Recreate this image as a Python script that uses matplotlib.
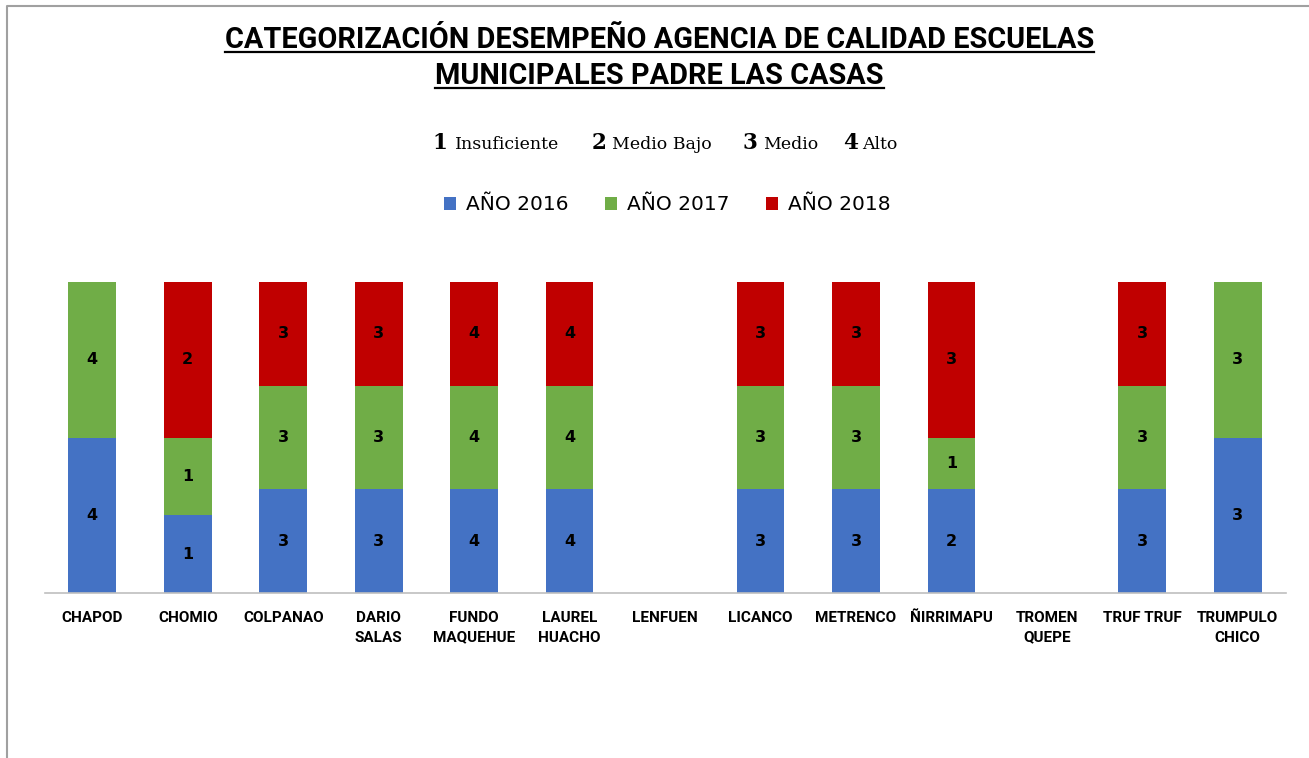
import matplotlib
matplotlib.use('Agg')
import matplotlib.pyplot as plt
import numpy as np
from matplotlib.lines import Line2D

W, H = 1309, 758

escuelas = ['CHAPOD', 'CHOMIO', 'COLPANAO', 'DARIO\nSALAS', 'FUNDO\nMAQUEHUE',
            'LAUREL\nHUACHO', 'LENFUEN', 'LICANCO', 'METRENCO', 'ÑIRRIMAPU',
            'TROMEN\nQUEPE', 'TRUF TRUF', 'TRUMPULO\nCHICO']
anio_2016 = [4, 1, 3, 3, 4, 4, 0, 3, 3, 2, 0, 3, 3]
anio_2017 = [4, 1, 3, 3, 4, 4, 0, 3, 3, 1, 0, 3, 3]
anio_2018 = [0, 2, 3, 3, 4, 4, 0, 3, 3, 3, 0, 3, 0]
series = ['AÑO 2016', 'AÑO 2017', 'AÑO 2018']
colores = ['#4472C4', '#70AD47', '#C00000']

categorias = [('1', 'Insuficiente'), ('2', 'Medio Bajo'), ('3', 'Medio'), ('4', 'Alto')]

NARROW = ['Roboto', 'DejaVu Sans']
plt.rcParams['font.family'] = ['DejaVu Sans']


def px(x, y):
    return x / W, 1 - y / H


fig = plt.figure(figsize=(W / 100, H / 100), dpi=100)
ax = fig.add_axes([44.6 / W, 1 - 593 / H, (1285.5 - 44.6) / W, 311 / H])

datos = np.array([anio_2016, anio_2017, anio_2018], dtype=float)
totales = datos.sum(axis=0)
pct = np.divide(datos, totales, out=np.zeros_like(datos), where=totales > 0)
x = np.arange(len(escuelas))
base = np.zeros(len(escuelas))
for i, (nombre, color) in enumerate(zip(series, colores)):
    bars = ax.bar(x, pct[i], 0.5, bottom=base, color=color, label=nombre)
    for j, b in enumerate(bars):
        if datos[i, j] > 0:
            ax.text(b.get_x() + b.get_width() / 2, base[j] + pct[i, j] / 2,
                    f'{int(datos[i, j])}', ha='center', va='center',
                    fontsize=11.5, fontweight='bold', color='black')
    base += pct[i]

ax.set_xlim(-0.5, len(escuelas) - 0.5)
ax.set_ylim(0, 1)
ax.set_xticks(x)
ax.set_xticklabels(escuelas, family=NARROW, fontsize=11, fontweight='bold',
                   linespacing=1.5, va='top')
ax.tick_params(axis='x', length=0, pad=13)
ax.set_yticks([])
for s in ['top', 'right', 'left']:
    ax.spines[s].set_visible(False)
ax.spines['bottom'].set_color('#BFBFBF')
ax.spines['bottom'].set_linewidth(1.2)

# leyenda
leg = fig.legend(loc='center', bbox_to_anchor=px(667, 205), ncol=3, frameon=False,
                 fontsize=14.5, handlelength=0.6, handleheight=0.6, handletextpad=0.5,
                 columnspacing=1.8)

# clave de categorias
pos_cat = [(432, 455), (592, 612), (743, 763), (843, 862)]
for (num, txt), (xn, xt) in zip(categorias, pos_cat):
    fig.text(*px(xn, 149), num, family='DejaVu Serif', fontsize=15.5, fontweight='bold',
             va='baseline', ha='left')
    fig.text(*px(xt, 149), txt, family='DejaVu Serif', fontsize=12.5,
             va='baseline', ha='left')

# titulo subrayado
titulos = [('CATEGORIZACIÓN DESEMPEÑO AGENCIA DE CALIDAD ESCUELAS', 48, 51.5),
           ('MUNICIPALES PADRE LAS CASAS', 84, 88)]
textos = []
for t, yb, yu in titulos:
    tx = fig.text(*px(659.5, yb), t, family=NARROW, fontsize=20.8, fontweight='bold',
                  ha='center', va='baseline')
    textos.append((tx, yu))

fig.canvas.draw()
r = fig.canvas.get_renderer()
for tx, yu in textos:
    bb = tx.get_window_extent(r)
    fig.add_artist(Line2D([bb.x0 / W, bb.x1 / W], [1 - yu / H] * 2, color='black',
                          lw=1.6, transform=fig.transFigure))

# marco
fig.add_artist(Line2D([6.5 / W, 6.5 / W, 1], [0, 1 - 5.5 / H, 1 - 5.5 / H],
                      color='#A0A0A0', lw=1.5, transform=fig.transFigure))

fig.savefig('out.png', dpi=100, facecolor='white')
